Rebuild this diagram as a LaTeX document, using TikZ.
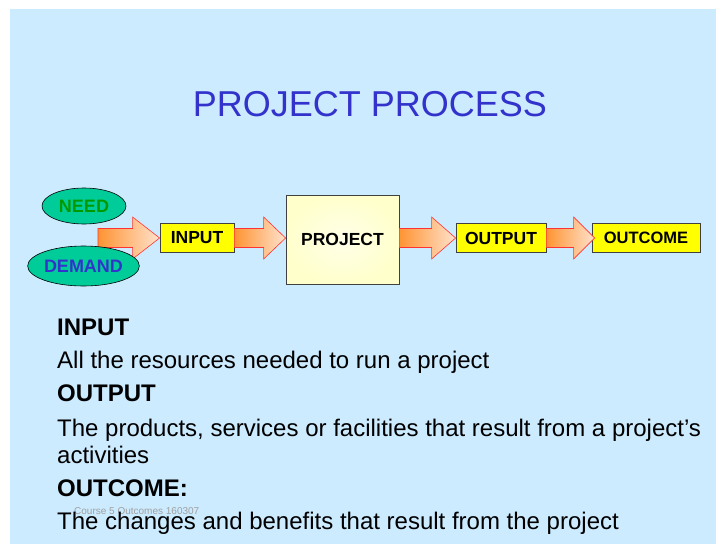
\documentclass[tikz,border=0pt]{standalone}
\usepackage{fontspec}
\setmainfont{Liberation Sans}
\usetikzlibrary{calc,shapes.geometric}

\definecolor{slidebg}{HTML}{CCEBFF}
\definecolor{titleblue}{HTML}{3333CC}
\definecolor{ovalfill}{HTML}{00CC99}
\definecolor{needgreen}{HTML}{009900}
\definecolor{boxyellow}{HTML}{FFFF00}
\definecolor{paleyellow}{HTML}{FFFFCC}
\definecolor{arroworange}{HTML}{FF9433}
\definecolor{arrowpeach}{HTML}{FFE2CC}
\definecolor{arrowred}{HTML}{FF3333}
\definecolor{footgray}{HTML}{A0A0A0}

% block arrow: #1 start, #2 tip, #3 head length (pt), #4 point giving the axis height
\newcommand\fatarrow[4]{%
  \shade[fatarrow] let \p1=(#1), \p2=(#2), \p3=(#4) in
    (\x1,\y3+9.5pt) -- (\x2-#3pt,\y3+9.5pt) -- (\x2-#3pt,\y3+21pt) -- (\x2,\y3)
    -- (\x2-#3pt,\y3-21pt) -- (\x2-#3pt,\y3-9.5pt) -- (\x1,\y3-9.5pt) -- cycle;}

\begin{document}
\begin{tikzpicture}[x=1pt,y=-1pt,
  flowbox/.style={draw=black!75, fill=boxyellow, line width=0.8pt, inner sep=0pt,
    minimum height=29pt, font=\fontsize{17.5}{20}\selectfont\bfseries},
  oval/.style={ellipse, draw=black, fill=ovalfill, line width=0.6pt, inner sep=0pt,
    font=\fontsize{18}{20}\selectfont\bfseries},
  fatarrow/.style={left color=arroworange, right color=arrowpeach, draw=arrowred,
    line width=0.6pt, line join=miter},
  body/.style={anchor=base west, inner sep=0pt, font=\fontsize{24}{28}\selectfont},
  head/.style={body, font=\fontsize{24}{28}\selectfont\bfseries}]

\useasboundingbox (0,0) rectangle (716,544);
\fill[slidebg] (10,9) rectangle (716,544);

% title
\node[anchor=base, inner sep=0pt, text=titleblue, font=\fontsize{36}{40}\selectfont]
  (title) at (370,116) {PROJECT PROCESS};

% process chain
\node[flowbox, minimum width=74pt] (input) at (197,238) {INPUT};
\node[draw=black!75, line width=0.8pt, inner color=white!55!paleyellow, outer color=paleyellow,
  minimum width=113pt, minimum height=89pt, inner sep=0pt,
  font=\fontsize{17.5}{20}\selectfont\bfseries] (project) at (342.5,239.5) {PROJECT};
\node[flowbox, minimum width=90pt] (output) at (501,238) {OUTPUT};
\node[flowbox, minimum width=108pt, font=\fontsize{16.5}{20}\selectfont\bfseries]
  (outcome) at (646,238) {OUTCOME};

\coordinate (feed) at (98,238);
\coordinate (outtip) at ([xshift=3pt]outcome.west);
\fatarrow{feed}{input.west}{27}{input.west}
\fatarrow{input.east}{project.west}{22}{input.east}
\fatarrow{project.east}{output.west}{24}{output.west}
\fatarrow{output.east}{outtip}{21}{output.east}

% sources
\node[oval, minimum width=84pt, minimum height=36pt, text=needgreen] (need) at (84,206) {NEED};
\node[oval, minimum width=97pt, minimum height=40pt, text=titleblue] (demand) at (83.5,266) {DEMAND};

% footer
\node[anchor=base west, inner sep=0pt, text=footgray, font=\fontsize{10}{12}\selectfont]
  (footer) at (74,514) {Course 5 Outcomes 160307};

% definitions
\node[head] (hin) at (57,335) {INPUT};
\node[body] (tin) at (57,368) {All the resources needed to run a project};
\node[head] (hout) at (57,401) {OUTPUT};
\node[body] (tout1) at (57,436) {The products, services or facilities that result from a project’s};
\node[body] (tout2) at (57,463) {activities};
\node[head] (hoc) at (57,496) {OUTCOME:};
\node[body] (toc) at (57,529) {The changes and benefits that result from the project};
\end{tikzpicture}
\end{document}
